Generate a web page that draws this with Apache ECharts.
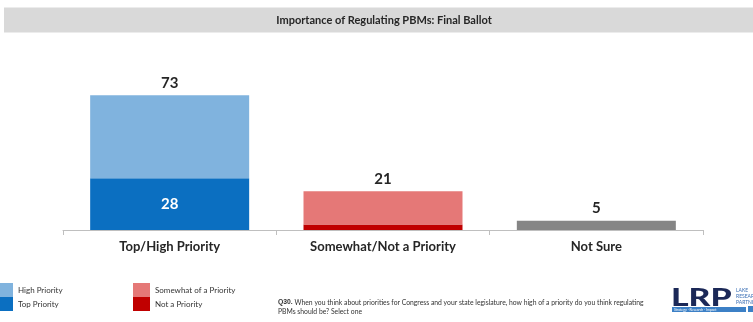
<!DOCTYPE html>
<html>
<head>
<meta charset="utf-8">
<script src="https://cdn.jsdelivr.net/npm/echarts@6/dist/echarts.min.js"></script>
<style>html,body{margin:0;padding:0;background:#fff}#c{width:753px;height:322px}</style>
</head>
<body>
<div id="c"></div>
<script>
var categories = ['Top/High Priority', 'Somewhat/Not a Priority', 'Not Sure'];
var topPriority = [28, null, null];
var highPriority = [45, null, null];
var notPriority = [null, 3, null];
var somewhatPriority = [null, 18, null];
var notSure = [null, null, 5];
var totals = [73, 21, 5];
var yMax = 100;

var FONT = 'Lato, "Open Sans", sans-serif';
var chart = echarts.init(document.getElementById('c'), null, {renderer: 'canvas'});

var totalLabel = {
  show: true, position: 'top', distance: 5,
  fontFamily: FONT, fontWeight: 'bold', fontSize: 15, color: '#262626',
  formatter: function (p) { return totals[p.dataIndex]; }
};

chart.setOption({
  animation: false,
  textStyle: {fontFamily: FONT},
  grid: {left: 63, right: 50, top: 45.4, bottom: 92},
  legend: [
    {
      left: -4, top: 283, orient: 'vertical', itemWidth: 17, itemHeight: 14, itemGap: 0, padding: 0,
      icon: 'rect',
      textStyle: {fontSize: 8, color: '#333', fontFamily: FONT},
      data: ['High Priority', 'Top Priority']
    },
    {
      left: 133, top: 283, orient: 'vertical', itemWidth: 17, itemHeight: 14, itemGap: 0, padding: 0,
      icon: 'rect',
      textStyle: {fontSize: 8, color: '#333', fontFamily: FONT},
      data: ['Somewhat of a Priority', 'Not a Priority']
    }
  ],
  xAxis: {
    type: 'category', data: categories,
    axisLine: {lineStyle: {color: '#bfbfbf', width: 1}},
    axisTick: {show: true, length: 5, lineStyle: {color: '#bfbfbf'}},
    axisLabel: {fontFamily: FONT, fontWeight: 'bold', fontSize: 13, color: '#262626', margin: 10}
  },
  yAxis: {type: 'value', min: 0, max: yMax, show: false, splitLine: {show: false}},
  series: [
    {
      name: 'Top Priority', type: 'bar', stack: 'a', data: topPriority, barWidth: 159,
      itemStyle: {color: '#0b6fc1'},
      label: {show: true, position: 'inside', fontFamily: FONT, fontWeight: 'bold', fontSize: 15, color: '#fff'}
    },
    {
      name: 'High Priority', type: 'bar', stack: 'a', data: highPriority, barWidth: 159,
      itemStyle: {color: '#80b3de'},
      label: totalLabel
    },
    {
      name: 'Not a Priority', type: 'bar', stack: 'a', data: notPriority, barWidth: 159,
      itemStyle: {color: '#c00000'}
    },
    {
      name: 'Somewhat of a Priority', type: 'bar', stack: 'a', data: somewhatPriority, barWidth: 159,
      itemStyle: {color: '#e57877'},
      label: totalLabel
    },
    {
      name: 'Not Sure', type: 'bar', stack: 'a', data: notSure, barWidth: 159,
      itemStyle: {color: '#858585'},
      label: totalLabel
    }
  ],
  graphic: [
    {type: 'rect', shape: {x: 4, y: 7.5, width: 760, height: 25}, style: {fill: '#d9d9d9'}, z: -1},
    {type: 'text', x: 384, y: 20, style: {text: 'Importance of Regulating PBMs: Final Ballot', fontFamily: FONT, fontWeight: 'bold', fontSize: 11, fill: '#262626', align: 'center', verticalAlign: 'middle'}},
    {type: 'text', x: 278, y: 298, style: {
      text: '{b|Q30.} When you think about priorities for Congress and your state legislature, how high of a priority do you think regulating\nPBMs should be? Select one',
      fontFamily: FONT, fontSize: 6.8, fill: '#333', lineHeight: 9,
      rich: {b: {fontWeight: 'bold', fontSize: 6.8, fill: '#333'}}
    }},
    {type: 'text', x: 671, y: 285, scaleX: 1.35, style: {text: 'LRP', fontFamily: FONT, fontWeight: 900, fontSize: 25, fill: '#1b2857'}},
    {type: 'text', x: 736, y: 287, style: {text: 'LAKE\nRESEARCH\nPARTNERS', fontFamily: FONT, fontSize: 5, lineHeight: 6, fill: '#3b6fb5'}},
    {type: 'rect', shape: {x: 672, y: 307, width: 74, height: 5}, style: {fill: '#3c80c6'}},
    {type: 'text', x: 674, y: 309.5, style: {text: 'Strategy · Research · Impact', fontFamily: FONT, fontSize: 3.5, fill: '#fff', verticalAlign: 'middle'}},
    {type: 'rect', shape: {x: 748, y: 306, width: 5, height: 6}, style: {fill: '#3c80c6'}}
  ]
});
</script>
</body>
</html>
